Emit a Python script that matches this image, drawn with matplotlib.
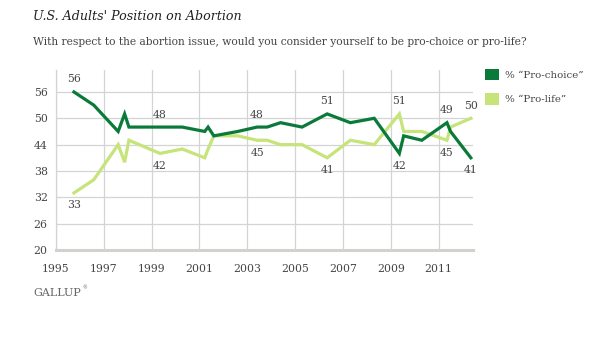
import matplotlib
matplotlib.use("Agg")
import matplotlib.pyplot as plt
from matplotlib.patches import Patch

# survey dates (decimal years) and results
dates = [1995.75, 1996.58, 1997.6, 1997.87, 1998.05, 1999.35, 2000.28, 2001.22,
         2001.36, 2001.6, 2002.6, 2003.41, 2003.83, 2004.39, 2005.29, 2006.34,
         2007.31, 2008.31, 2009.36, 2009.54, 2010.3, 2011.35, 2011.5, 2012.35]
pro_choice = [56, 53, 47, 51, 48, 48, 48, 47, 48, 46, 47, 48, 48, 49, 48, 51,
              49, 50, 42, 46, 45, 49, 47, 41]
pro_life = [33, 36, 44, 40, 45, 42, 43, 41, 43, 46, 46, 45, 45, 44, 44, 41,
            45, 44, 51, 47, 47, 45, 48, 50]

# which points get a value label: (index, above?)
choice_labels = [(0, True), (5, True), (11, True), (15, True), (18, False), (21, True), (23, False)]
life_labels = [(0, False), (5, False), (11, False), (15, False), (18, True), (21, False), (23, True)]

x_ticks = [1995, 1997, 1999, 2001, 2003, 2005, 2007, 2009, 2011]
y_ticks = [20, 26, 32, 38, 44, 50, 56]

dark = "#0a7a3a"
light = "#c6e47a"
grid_col = "#d4d4d4"
txt_col = "#444444"

plt.rcParams["font.family"] = ["DejaVu Serif"]

fig = plt.figure(figsize=(6.11, 3.37), dpi=100)
ax = fig.add_axes([56 / 611, 87 / 337, 417 / 611, 180 / 337])

ax.plot(dates, pro_choice, color=dark, lw=2.3, solid_joinstyle="miter", zorder=3)
ax.plot(dates, pro_life, color=light, lw=2.3, solid_joinstyle="miter", zorder=2)

for i, up in choice_labels:
    ax.annotate(str(pro_choice[i]), (dates[i], pro_choice[i]), xytext=(0, 9 if up else -9),
                textcoords="offset points", ha="center", va="center", fontsize=7.8, color=txt_col)
for i, up in life_labels:
    ax.annotate(str(pro_life[i]), (dates[i], pro_life[i]), xytext=(0, 9 if up else -9),
                textcoords="offset points", ha="center", va="center", fontsize=7.8, color=txt_col)

ax.set_xlim(1995, 2012.44)
ax.set_ylim(20, 61)
ax.set_xticks(x_ticks)
ax.set_yticks(y_ticks)
ax.grid(True, color=grid_col, lw=0.9)
ax.set_axisbelow(True)
ax.tick_params(length=0, labelsize=7.8, colors=txt_col)
ax.tick_params(axis="x", pad=10)
ax.tick_params(axis="y", pad=6)
for s in ["top", "right"]:
    ax.spines[s].set_visible(False)
ax.spines["left"].set_color(grid_col)
ax.spines["left"].set_linewidth(0.9)
ax.spines["bottom"].set_color("#d2d2cc")
ax.spines["bottom"].set_linewidth(2.2)

handles = [Patch(facecolor=dark, edgecolor="none", label="% \u201cPro-choice\u201d"),
           Patch(facecolor=light, edgecolor="none", label="% \u201cPro-life\u201d")]
fig.legend(handles=handles, loc="upper left", bbox_to_anchor=(476 / 611, 1 - 60 / 337),
           frameon=False, fontsize=7.4, handlelength=1.3, handleheight=1.3,
           handletextpad=0.65, labelspacing=1.25, labelcolor=txt_col)

fig.text(33 / 611, 1 - 17 / 337, "U.S. Adults' Position on Abortion", fontsize=9.1,
         style="italic", color="#222222", va="center")
fig.text(33 / 611, 1 - 42 / 337,
         "With respect to the abortion issue, would you consider yourself to be pro-choice or pro-life?",
         fontsize=7.7, color=txt_col, va="center")
fig.text(33 / 611, 1 - 293 / 337, "GALLUP", fontsize=8, color="#666666", va="center")
fig.text(82 / 611, 1 - 288 / 337, "\u00ae", fontsize=3.5, color="#666666", va="center")

fig.savefig("out.png", dpi=100)
